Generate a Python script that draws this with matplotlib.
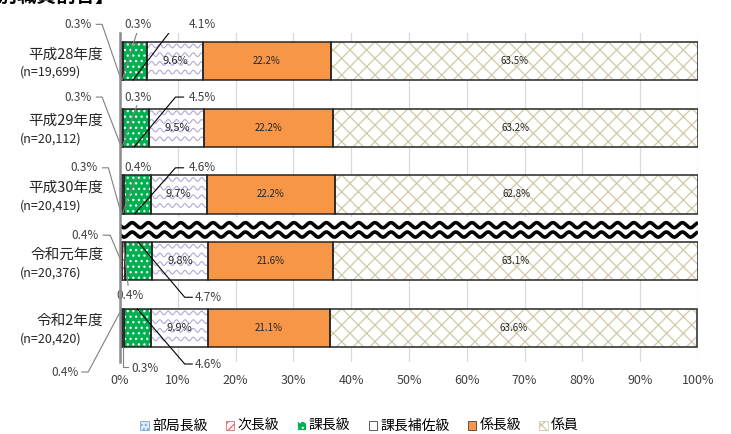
import numpy as np
import matplotlib.pyplot as plt
from matplotlib.patches import Patch, Rectangle

plt.rcParams['font.family'] = ['Noto Sans CJK JP', 'DejaVu Sans']
plt.rcParams['hatch.linewidth'] = 0.9

years = ['平成28年度', '平成29年度', '平成30年度', '令和元年度', '令和2年度']
counts = ['(n=19,699)', '(n=20,112)', '(n=20,419)', '(n=20,376)', '(n=20,420)']
categories = ['部局長級', '次長級', '課長級', '課長補佐級', '係長級', '係員']

bukyoku = [0.3, 0.3, 0.3, 0.4, 0.4]
jicho = [0.3, 0.3, 0.4, 0.4, 0.3]
kacho = [4.1, 4.5, 4.6, 4.7, 4.6]
hosa = [9.6, 9.5, 9.7, 9.8, 9.9]
kakaricho = [22.2, 22.2, 22.2, 21.6, 21.1]
kakariin = [63.5, 63.2, 62.8, 63.1, 63.6]

series = [bukyoku, jicho, kacho, hosa, kakaricho, kakariin]

# face, hatch, hatch colour for each category
styles = [
    ('#DCE9F7', '....', '#7FA7D9'),
    ('white', '////', '#E06666'),
    ('#00B050', '...', 'white'),
    ('white', '', '#B3A6DA'),
    ('#F79646', '', '#F79646'),
    ('white', 'xx', '#CFC9A8'),
]

fig = plt.figure(figsize=(7.31, 4.34), dpi=100)
ax = fig.add_axes([120 / 731, 1 - 362 / 434, 578 / 731, 329 / 434])

y = np.arange(len(years))
h = 0.57
left = np.zeros(len(years))
containers = []
for vals, (fc, hatch, hc) in zip(series, styles):
    bars = ax.barh(y, vals, left=left, height=h, color=fc, hatch=hatch,
                   edgecolor=hc, linewidth=0, zorder=2)
    ax.barh(y, vals, left=left, height=h, fill=False, edgecolor='#262626',
            linewidth=1.1, zorder=3)
    containers.append((bars, left.copy()))
    left += np.array(vals)

# wavy pattern for 課長補佐級
bars, starts = containers[3]
for rect, x0, w in zip(bars.patches, starts, hosa):
    yc = rect.get_y()
    for row in np.arange(yc + 0.06, yc + h, 0.13):
        xs = np.linspace(x0, x0 + w, 120)
        ys = row + 0.028 * np.sin(2 * np.pi * xs / 1.45)
        ln, = ax.plot(xs, ys, color='#B3A6DA', lw=0.8, zorder=2.5)
        ln.set_clip_path(rect)

# values written inside the larger segments
for i in range(len(years)):
    x0 = containers[3][1][i]
    ax.text(x0 + hosa[i] / 2, i, f'{hosa[i]}%', ha='center', va='center',
            fontsize=8, color='#262626', zorder=4)
    x0 = containers[4][1][i]
    ax.text(x0 + kakaricho[i] / 2, i, f'{kakaricho[i]}%', ha='center',
            va='center', fontsize=7, color='#262626', zorder=4)
    x0 = containers[5][1][i]
    ax.text(x0 + kakariin[i] / 2, i, f'{kakariin[i]}%', ha='center',
            va='center', fontsize=7, color='#262626', zorder=4)

# small-share labels with leader lines
gray = '#7F7F7F'
above = [-0.55, -0.46, -0.40]
for i, off in enumerate(above):
    ty = i + off
    bx = -7.3 if i < 2 else -6.2
    ax.text(bx, ty, f'{bukyoku[i]}%', ha='center', va='center', fontsize=8.5,
            color='#404040', clip_on=False)
    ax.plot([bx + 3.2, bx + 4.2, bukyoku[i] / 2], [ty, ty, i + 0.27],
            color=gray, lw=0.8, clip_on=False, zorder=5)
    ax.text(3.1, ty, f'{jicho[i]}%', ha='center', va='center', fontsize=8.5,
            color='#404040')
    ax.plot([2.9, bukyoku[i] + jicho[i] / 2], [ty + 0.13, i + 0.27],
            color=gray, lw=0.8, zorder=5)
    kc = bukyoku[i] + jicho[i] + kacho[i] / 2
    ax.text(14.2, ty, f'{kacho[i]}%', ha='center', va='center', fontsize=8.5,
            color='#404040')
    ax.plot([11.0, 9.6, kc - 0.4], [ty, ty, i + 0.285], color='black',
            lw=0.8, zorder=5)

# 令和元年度
i = 3
ax.text(-6.1, i - 0.39, f'{bukyoku[i]}%', ha='center', va='center',
        fontsize=8.5, color='#404040', clip_on=False)
ax.plot([-2.9, -1.7, bukyoku[i] / 2], [i - 0.39, i - 0.39, i], color=gray,
        lw=0.8, clip_on=False, zorder=5)
ax.text(1.8, i + 0.51, f'{jicho[i]}%', ha='center', va='center',
        fontsize=8.5, color='#404040')
ax.plot([1.4, bukyoku[i] + jicho[i] / 2], [i + 0.36, i - 0.25], color=gray,
        lw=0.8, zorder=5)
kc = bukyoku[i] + jicho[i] + kacho[i] / 2
ax.text(15.3, i + 0.54, f'{kacho[i]}%', ha='center', va='center',
        fontsize=8.5, color='#404040')
ax.plot([kc, 11.2, 12.5], [i - 0.285, i + 0.54, i + 0.54], color='black',
        lw=0.8, zorder=5)

# 令和2年度
i = 4
ax.text(-9.5, i + 0.66, f'{bukyoku[i]}%', ha='center', va='center',
        fontsize=8.5, color='#404040', clip_on=False)
ax.plot([-6.6, -5.5, bukyoku[i] / 2], [i + 0.66, i + 0.66, i - 0.27],
        color=gray, lw=0.8, clip_on=False, zorder=5)
ax.text(4.4, i + 0.61, f'{jicho[i]}%', ha='center', va='center',
        fontsize=8.5, color='#404040', clip_on=False)
jx = bukyoku[i] + jicho[i] / 2
ax.plot([jx, jx, 1.4], [i + 0.285, i + 0.58, i + 0.58], color=gray, lw=0.8,
        clip_on=False, zorder=5)
kc = bukyoku[i] + jicho[i] + kacho[i] / 2
ax.text(15.3, i + 0.54, f'{kacho[i]}%', ha='center', va='center',
        fontsize=8.5, color='#404040', clip_on=False)
ax.plot([kc, 11.2, 12.5], [i - 0.285, i + 0.54, i + 0.54], color='black',
        lw=0.8, clip_on=False, zorder=5)

# break marks between 平成30年度 and 令和元年度
ax.add_patch(Rectangle((0, 2.34), 100, 0.36, facecolor='white',
                       edgecolor='none', zorder=1.5))
wx = np.linspace(0, 100, 1000)
for base in (2.46, 2.60):
    ax.plot(wx, base + 0.038 * np.sin(2 * np.pi * wx / 2.8), color='black',
            lw=2.6, zorder=4, solid_capstyle='butt')

ax.set_xlim(0, 100)
ax.set_ylim(4.51, -0.42)
ax.set_xticks(np.arange(0, 101, 10))
ax.set_xticklabels([f'{v}%' for v in range(0, 101, 10)], fontsize=9,
                   color='#404040')
ax.set_yticks([])
ax.tick_params(axis='x', length=0, pad=9)
ax.grid(axis='x', color='#D9D9D9', lw=0.9, zorder=0)
ax.set_axisbelow(True)
for side in ('top', 'right', 'bottom'):
    ax.spines[side].set_visible(False)
ax.spines['left'].set_color('#8C8C8C')
ax.spines['left'].set_linewidth(1.8)
ax.spines['left'].set_zorder(6)

for i in range(len(years)):
    ax.text(-2.9, i - 0.1, years[i], ha='right', va='center', fontsize=10.5,
            color='#262626', clip_on=False)
    ax.text(-17.3, i + 0.17, counts[i], ha='left', va='center', fontsize=9,
            color='#262626', clip_on=False)

# header line that runs off the top of the figure
fig.text(115 / 731, 0.986, '【役職段階別職員割合】', ha='right', va='bottom',
         fontsize=14, fontweight='bold')

handles = [Patch(facecolor=fc, hatch=hatch, edgecolor=hc if hatch else '#404040',
                 linewidth=0.6) for fc, hatch, hc in styles]
handles[3] = Patch(facecolor='white', edgecolor='#404040', linewidth=0.6)
fig.legend(handles, categories, loc='center', bbox_to_anchor=(0.492, 0.018),
           ncol=6, frameon=False, fontsize=10, handlelength=0.6,
           handleheight=0.6, handletextpad=0.25, columnspacing=1.3)

fig.savefig('out.png', dpi=100)
